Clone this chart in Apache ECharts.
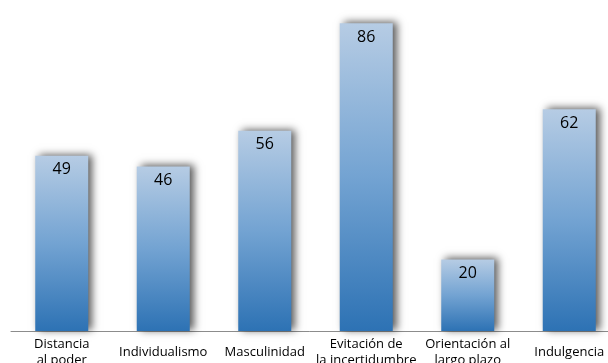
<!DOCTYPE html>
<html><head><meta charset="utf-8">
<script src="https://cdn.jsdelivr.net/npm/echarts@6/dist/echarts.min.js"></script>
<style>html,body{margin:0;padding:0;background:#fff;overflow:hidden}#c{width:608px;height:363px}</style>
</head><body><div id="c"></div>
<script>
const categories = ["Distancia\nal poder", "Individualismo", "Masculinidad", "Evitación de\nla incertidumbre", "Orientación al\nlargo plazo", "Indulgencia"];
const values = [49, 46, 56, 86, 20, 62];

const chart = echarts.init(document.getElementById('c'));
chart.setOption({
  animation: false,
  grid: { left: 11, width: 609, top: 9, bottom: 32, containLabel: false, outerBoundsMode: 'none' },
  xAxis: {
    type: 'category', data: categories,
    axisLine: { lineStyle: { color: '#8c8c8c', width: 1 } },
    axisTick: { show: false },
    axisLabel: { interval: 0, color: '#000', fontFamily: 'Open Sans', fontSize: 13, lineHeight: 16, margin: 21, verticalAlign: 'middle' }
  },
  yAxis: { type: 'value', min: 0, max: 90, show: false, splitLine: { show: false } },
  series: [{
    type: 'bar', data: values, barWidth: 53,
    itemStyle: {
      color: new echarts.graphic.LinearGradient(0, 0, 0, 1, [
        { offset: 0, color: '#b6cce4' },
        { offset: 0.5, color: '#73a3d2' },
        { offset: 1, color: '#2d72b4' }
      ]),
      shadowColor: 'rgba(0,0,0,0.65)', shadowBlur: 8, shadowOffsetX: 4, shadowOffsetY: -1
    },
    label: { show: true, position: 'insideTop', distance: 6, color: '#000', fontFamily: 'Open Sans', fontSize: 16 }
  }]
});
</script></body></html>
